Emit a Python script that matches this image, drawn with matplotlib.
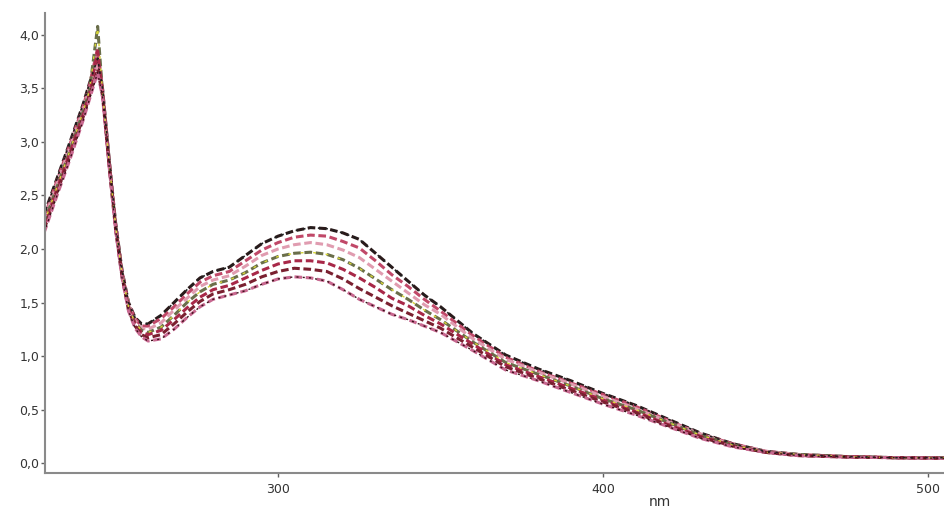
import numpy as np
import matplotlib
matplotlib.use("Agg")
from matplotlib import pyplot as plt

# wavelength grid (nm)
wl = [228, 232, 236, 240, 242, 244.5, 246, 248, 250, 252, 254, 256, 258, 260,
      264, 268, 272, 276, 280, 285, 290, 295, 300, 305, 310, 315, 320, 325,
      330, 335, 340, 345, 350, 360, 370, 380, 390, 400, 410, 420, 430, 440,
      450, 460, 475, 490, 505]

# absorbance spectra, top to bottom on the 310 nm band
s1 = [2.32, 2.66, 3.00, 3.35, 3.55, 3.78, 3.50, 2.85, 2.25, 1.80, 1.50, 1.36, 1.30, 1.30,
      1.38, 1.50, 1.62, 1.73, 1.79, 1.83, 1.94, 2.05, 2.12, 2.17, 2.20, 2.19, 2.15, 2.09,
      1.96, 1.83, 1.70, 1.57, 1.46, 1.21, 1.01, 0.88, 0.77, 0.65, 0.54, 0.41, 0.28, 0.18,
      0.11, 0.08, 0.06, 0.05, 0.05]
s2 = [2.29, 2.64, 2.98, 3.33, 3.53, 3.88, 3.49, 2.84, 2.24, 1.79, 1.49, 1.35, 1.28, 1.28,
      1.35, 1.46, 1.58, 1.69, 1.75, 1.79, 1.89, 1.99, 2.06, 2.11, 2.13, 2.12, 2.07, 2.01,
      1.89, 1.76, 1.65, 1.53, 1.42, 1.19, 0.99, 0.86, 0.75, 0.64, 0.53, 0.40, 0.27, 0.18,
      0.11, 0.08, 0.06, 0.05, 0.05]
s3 = [2.27, 2.61, 2.95, 3.30, 3.50, 3.72, 3.48, 2.83, 2.23, 1.78, 1.48, 1.33, 1.26, 1.25,
      1.31, 1.43, 1.54, 1.65, 1.71, 1.75, 1.84, 1.94, 2.00, 2.04, 2.06, 2.04, 1.99, 1.92,
      1.81, 1.70, 1.59, 1.48, 1.39, 1.16, 0.97, 0.85, 0.74, 0.62, 0.51, 0.39, 0.27, 0.17,
      0.11, 0.08, 0.06, 0.05, 0.05]
s4 = [2.24, 2.58, 2.92, 3.28, 3.48, 4.08, 3.46, 2.82, 2.22, 1.77, 1.46, 1.31, 1.24, 1.22,
      1.27, 1.38, 1.50, 1.60, 1.67, 1.71, 1.78, 1.87, 1.93, 1.96, 1.97, 1.95, 1.90, 1.82,
      1.72, 1.62, 1.53, 1.43, 1.34, 1.13, 0.94, 0.83, 0.72, 0.60, 0.50, 0.38, 0.26, 0.17,
      0.10, 0.08, 0.06, 0.05, 0.05]
s5 = [2.21, 2.56, 2.90, 3.25, 3.45, 3.85, 3.45, 2.80, 2.20, 1.75, 1.45, 1.30, 1.22, 1.20,
      1.24, 1.34, 1.45, 1.55, 1.62, 1.66, 1.73, 1.80, 1.86, 1.89, 1.89, 1.87, 1.81, 1.73,
      1.64, 1.54, 1.47, 1.38, 1.30, 1.11, 0.92, 0.81, 0.70, 0.59, 0.48, 0.36, 0.25, 0.16,
      0.10, 0.07, 0.06, 0.05, 0.045]
s6 = [2.18, 2.53, 2.87, 3.23, 3.43, 3.68, 3.43, 2.79, 2.19, 1.74, 1.43, 1.28, 1.20, 1.17,
      1.20, 1.30, 1.41, 1.51, 1.58, 1.62, 1.67, 1.74, 1.79, 1.82, 1.81, 1.79, 1.72, 1.63,
      1.55, 1.47, 1.40, 1.33, 1.26, 1.08, 0.90, 0.79, 0.68, 0.57, 0.47, 0.35, 0.24, 0.16,
      0.10, 0.07, 0.055, 0.05, 0.045]
s7 = [2.15, 2.50, 2.84, 3.20, 3.40, 3.65, 3.42, 2.78, 2.18, 1.73, 1.42, 1.26, 1.18, 1.14,
      1.16, 1.25, 1.36, 1.46, 1.53, 1.57, 1.61, 1.67, 1.72, 1.74, 1.73, 1.70, 1.62, 1.53,
      1.46, 1.39, 1.34, 1.28, 1.22, 1.05, 0.87, 0.77, 0.66, 0.55, 0.45, 0.34, 0.23, 0.15,
      0.10, 0.07, 0.055, 0.05, 0.045]

spectra = [s1, s2, s3, s4, s5, s6, s7]
colors = ["#2a1a1a", "#c04868", "#e09cb0", "#6a6e4a", "#a82848", "#7a2030", "#c86890"]
yellow_line = s4  # the one that spikes at 244 nm

yticks = [0.0, 0.5, 1.0, 1.5, 2.0, 2.5, 3.0, 3.5, 4.0]
ytick_labels = ["0,0", "0,5", "1,0", "1,5", "2,0", "2,5", "3,0", "3,5", "4,0"]
xticks = [300, 400, 500]
xtick_labels = ["300", "400", "500"]

fig = plt.figure(figsize=(9.44, 5.11), dpi=100)
ax = fig.add_axes([45/944, 38/511, 899/944, 460/511])

for s, c in zip(spectra, colors):
    ax.plot(wl, s, color=c, lw=2.2, linestyle=(0, (2.5, 1.2)))
# yellowish dashes on top, like in the original trace
ax.plot(wl, yellow_line, color="#d8d838", lw=1.0, linestyle=(2, (2, 7)))
ax.plot(wl, s1, color="#202020", lw=1.2, linestyle=(1, (1.5, 3)))
ax.plot(wl, s7, color="#3a1018", lw=1.0, linestyle=(0, (1.5, 3)))

ax.set_xlim(228.3, 504.9)
ax.set_ylim(-0.093, 4.205)

ax.set_yticks(yticks)
ax.set_yticklabels(ytick_labels)
ax.set_xticks(xticks)
ax.set_xticklabels(xtick_labels)

for side in ["top", "right"]:
    ax.spines[side].set_visible(False)
for side in ["left", "bottom"]:
    ax.spines[side].set_color("#8a8a8a")
    ax.spines[side].set_linewidth(1.5)

ax.tick_params(axis="y", length=3, width=1, color="#606060", pad=1,
               labelsize=9, labelcolor="#333333")
ax.tick_params(axis="x", length=3, width=1, color="#606060", pad=4,
               labelsize=9, labelcolor="#333333")

fig.text(660/944, 1 - 502/511, "nm", ha="center", va="center",
         fontsize=10, color="#333333")

fig.savefig("out.png", dpi=100)
